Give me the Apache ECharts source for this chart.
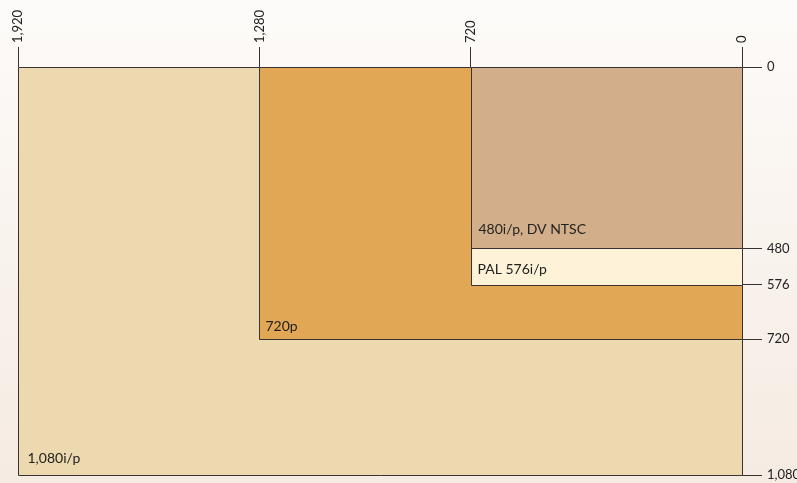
<!DOCTYPE html>
<html><head><meta charset="utf-8">
<script src="https://cdn.jsdelivr.net/npm/echarts@6/dist/echarts.min.js"></script>
<style>html,body{margin:0;padding:0;}#c{width:797px;height:483px;}</style>
</head><body><div id="c"></div>
<script>
const formats = ['1,080i/p', '720p', 'PAL 576i/p', '480i/p, DV NTSC'];
const widths = [1920, 1280, 720, 720];
const heights = [1080, 720, 576, 480];
const xTicks = [1920, 1280, 720, 0];
const yTicks = [0, 480, 576, 720, 1080];

const fills = ['#EDD9AF', '#E2A754', '#FEF3D9', '#D2AF8A'];
const labelLift = [17, 13, 16, 19];
const labelIndent = [9, 6, 6, 7];

const fmt = v => v.toLocaleString('en-US');
const chart = echarts.init(document.getElementById('c'));
chart.setOption({
  backgroundColor: {type: 'linear', x: 0, y: 0, x2: 0, y2: 1,
    colorStops: [{offset: 0, color: '#FDFBF9'}, {offset: 1, color: '#F5EBE2'}]},
  animation: false,
  grid: {left: 18, right: 55, top: 67, bottom: 8, outerBoundsMode: 'none'},
  xAxis: {
    type: 'value', position: 'top', inverse: true, min: 0, max: 1920,
    splitLine: {show: false},
    axisLine: {show: false},
    axisTick: {show: true, length: 20, customValues: xTicks, lineStyle: {color: '#333', width: 1}},
    axisLabel: {customValues: xTicks, rotate: 90, margin: 24, formatter: fmt,
      fontFamily: 'Lato', fontSize: 13, color: '#222'}
  },
  yAxis: {
    type: 'value', position: 'right', inverse: true, min: 0, max: 1080,
    splitLine: {show: false},
    axisLine: {show: false},
    axisTick: {show: true, length: 20, customValues: yTicks, lineStyle: {color: '#333', width: 1}},
    axisLabel: {customValues: yTicks, margin: 25, formatter: fmt,
      fontFamily: 'Lato', fontSize: 13, color: '#222'}
  },
  series: [{
    type: 'custom',
    data: formats.map((f, i) => [widths[i], heights[i], i]),
    clip: false,
    renderItem: function (params, api) {
      const i = api.value(2);
      const p0 = api.coord([api.value(0), 0]);
      const p1 = api.coord([0, api.value(1)]);
      const x = Math.round(p0[0]) + 0.5, y = Math.round(p0[1]) + 0.5;
      const x2 = Math.round(p1[0]) + 0.5, y2 = Math.round(p1[1]) + 0.5;
      return {
        type: 'group',
        children: [
          {type: 'rect', shape: {x: x, y: y, width: x2 - x, height: y2 - y},
            style: {fill: fills[i], stroke: '#3A3232', lineWidth: 1}},
          {type: 'text', x: x + labelIndent[i], y: y2 - labelLift[i],
            style: {text: formats[i], fill: '#222', font: '14px Lato', textVerticalAlign: 'middle', textAlign: 'left'}}
        ]
      };
    }
  }]
});
</script></body></html>
